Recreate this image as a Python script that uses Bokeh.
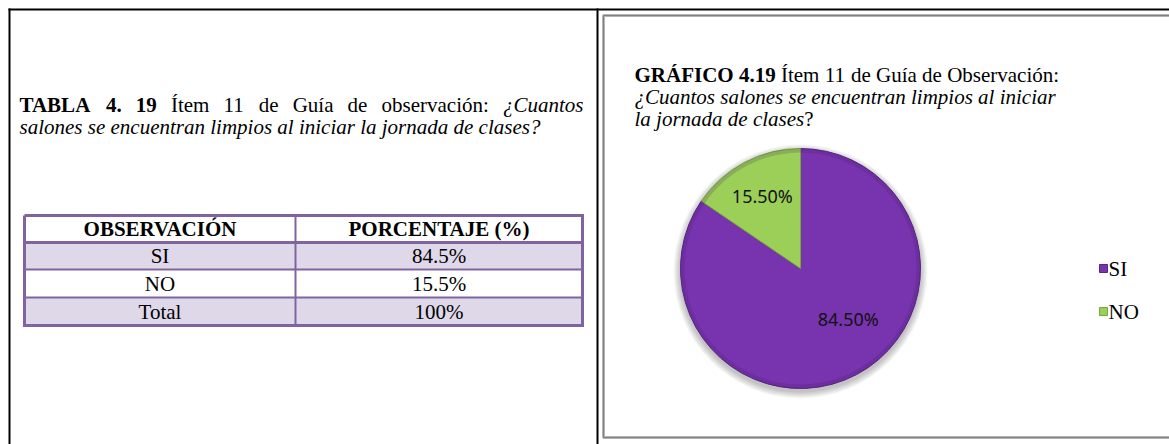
import math
from bokeh.plotting import figure
from bokeh.models import Range1d, ColumnDataSource
from bokeh.core.properties import value
from bokeh.embed import file_html
from bokeh.resources import INLINE

# ---------------- data ----------------
categories = ["SI", "NO"]
percentages = [84.5, 15.5]
slice_colors = ["#7834AE", "#9BCF58"]
table_header = ["OBSERVACIÓN", "PORCENTAJE (%)"]
table_obs = ["SI", "NO", "Total"]
table_pct = ["84.5%", "15.5%", "100%"]

# ---------------- page geometry ----------------
W, H = 1169, 444
def X(px):
    return px
def Y(py):
    return H - py

SERIF = "Liberation Serif"
FS = 21

p = figure(width=W, height=H, x_range=Range1d(0, W), y_range=Range1d(0, H),
           output_backend="svg", toolbar_location=None, min_border=0,
           x_axis_location=None, y_axis_location=None)
p.grid.visible = False
p.outline_line_color = None
p.background_fill_color = "white"
p.border_fill_color = "white"

# ---------------- Times metrics (Liberation Serif is metric compatible) ----------------
REG = {' ': 250, '.': 250, ':': 278, '?': 444, '%': 833, 'G': 722, 'I': 333, 'Í': 333,
       'N': 722, 'O': 722, 'S': 556, 'T': 611, 'a': 444, 'b': 500, 'c': 444, 'd': 500,
       'e': 444, 'i': 278, 'í': 278, 'l': 278, 'm': 778, 'n': 500, 'o': 500, 'ó': 500,
       'r': 333, 's': 389, 't': 278, 'u': 500, 'v': 500}
BOLD = {' ': 250, '.': 250, '(': 333, ')': 333, '%': 1000, 'A': 722, 'Á': 722, 'B': 667,
        'C': 722, 'E': 667, 'F': 611, 'G': 778, 'I': 389, 'J': 500, 'L': 667, 'N': 722,
        'O': 778, 'Ó': 778, 'P': 611, 'R': 722, 'S': 556, 'T': 667, 'V': 722}
ITAL = {' ': 250, '?': 500, '¿': 500, 'C': 667, 'a': 500, 'c': 444, 'd': 500, 'e': 444,
        'i': 278, 'j': 278, 'l': 278, 'm': 722, 'n': 500, 'o': 500, 'p': 500, 'r': 389,
        's': 389, 't': 278, 'u': 500}
TABLES = {"normal": REG, "bold": BOLD, "italic": ITAL}

def tw(text, style, size=FS):
    t = TABLES[style]
    return sum(t.get(ch, 500) for ch in text) / 1000.0 * size

def draw_line(tokens, x0, base_img_y, justify_to=None, size=FS):
    # tokens: (text, style, joined_to_previous)
    widths = [tw(t, s, size) for t, s, _ in tokens]
    gaps = [0 if (i == 0 or tokens[i][2]) else 1 for i in range(len(tokens))]
    ngaps = sum(gaps)
    gap = 0.25 * size
    if justify_to is not None and ngaps:
        gap = (justify_to - x0 - sum(widths)) / ngaps
    x = x0
    for (t, s, _), w, g in zip(tokens, widths, gaps):
        x += g * gap
        p.text(x=[X(x)], y=[Y(base_img_y)], text=[t], text_font=value(SERIF),
               text_font_size=f"{size}px", text_font_style=s, text_color="black",
               text_align="left", text_baseline="alphabetic")
        x += w

# ---------------- document frame ----------------
p.segment(x0=[X(8)], y0=[Y(9)], x1=[W], y1=[Y(9)], line_color="black", line_width=2)
p.segment(x0=[X(9)], y0=[Y(8)], x1=[X(9)], y1=[0], line_color="black", line_width=2)
p.segment(x0=[X(597)], y0=[Y(8)], x1=[X(597)], y1=[0], line_color="black", line_width=2)
# grey inner frame of the chart panel
for lw, col in [(3, "#B4B4B4"), (1, "#808080")]:
    p.line(x=[W, X(603), X(603), W], y=[Y(15), Y(15), Y(437), Y(437)],
           line_color=col, line_width=lw)

# ---------------- left caption ----------------
n, b, i = "normal", "bold", "italic"
line1 = [("TABLA", b, False), ("4.", b, False), ("19", b, False), ("Ítem", n, False),
         ("11", n, False), ("de", n, False), ("Guía", n, False), ("de", n, False),
         ("observación:", n, False), ("¿Cuantos", i, False)]
draw_line(line1, 19, 104, justify_to=583)
line2 = [(w, i, False) for w in "salones se encuentran limpios al iniciar la jornada de clases?".split()]
draw_line(line2, 19, 126)

# ---------------- table ----------------
col_x = [24, 295, 582]
row_y = [215, 242, 269, 297, 325]
fills = ["white", "#DFD8E9", "white", "#DFD8E9"]
tsrc = ColumnDataSource(dict(left=[X(col_x[0])] * 4, right=[X(col_x[2])] * 4,
                             top=[Y(v) for v in row_y[:-1]], bottom=[Y(v) for v in row_y[1:]],
                             fill=fills))
p.quad(left="left", right="right", top="top", bottom="bottom", fill_color="fill",
       line_color=None, source=tsrc)
purple = "#8064A2"
for k, yy in enumerate(row_y[1:-1]):
    p.segment(x0=[X(col_x[0])], y0=[Y(yy)], x1=[X(col_x[2])], y1=[Y(yy)],
              line_color=purple, line_width=3 if k == 0 else 2)
p.segment(x0=[X(col_x[1])], y0=[Y(row_y[0])], x1=[X(col_x[1])], y1=[Y(row_y[-1])],
          line_color=purple, line_width=2)
p.line(x=[X(col_x[0]), X(col_x[2]), X(col_x[2]), X(col_x[0]), X(col_x[0])],
       y=[Y(row_y[0]), Y(row_y[0]), Y(row_y[-1]), Y(row_y[-1]), Y(row_y[0])],
       line_color=purple, line_width=3, line_join="miter")

ccx = [X((col_x[0] + col_x[1]) / 2), X((col_x[1] + col_x[2]) / 2)]
rcy = [Y((row_y[k] + row_y[k + 1]) / 2) for k in range(4)]
p.text(x=ccx, y=[rcy[0]] * 2, text=table_header, text_font=value(SERIF),
       text_font_size=f"{FS}px", text_font_style="bold", text_align="center",
       text_baseline="middle", text_color="black")
p.text(x=[ccx[0]] * 3, y=rcy[1:], text=table_obs, text_font=value(SERIF),
       text_font_size=f"{FS}px", text_align="center", text_baseline="middle", text_color="black")
p.text(x=[ccx[1]] * 3, y=rcy[1:], text=table_pct, text_font=value(SERIF),
       text_font_size=f"{FS}px", text_align="center", text_baseline="middle", text_color="black")

# ---------------- right caption ----------------
r1 = [("GRÁFICO", b, False), ("4.19", b, False), ("Ítem", n, False), ("11", n, False),
      ("de", n, False), ("Guía", n, False), ("de", n, False), ("Observación:", n, False)]
draw_line(r1, 634, 74)
r2 = [(w, i, False) for w in "¿Cuantos salones se encuentran limpios al iniciar".split()]
draw_line(r2, 634, 96)
r3 = [(w, i, False) for w in "la jornada de clases".split()] + [("?", n, True)]
draw_line(r3, 634, 118)

# ---------------- pie ----------------
cx, cy, R = X(800), Y(268), 120
# soft drop shadow
for k in range(7):
    p.circle(x=[cx], y=[cy - 3], radius=R + 1 + k, fill_color="#000000",
             fill_alpha=0.035, line_color=None)
total = sum(percentages)
cum = [0]
for v in percentages:
    cum.append(cum[-1] + v / total)
starts = [math.pi / 2 - 2 * math.pi * c for c in cum[:-1]]
ends = [math.pi / 2 - 2 * math.pi * c for c in cum[1:]]
edge = ["#5A2385", "#74A83A"]
psrc = ColumnDataSource(dict(x=[cx] * 2, y=[cy] * 2, start=starts, end=ends,
                             color=slice_colors, edge=edge, cat=categories))
p.wedge(x="x", y="y", radius=R, start_angle="start", end_angle="end", direction="clock",
        fill_color="color", line_color="edge", line_width=1, source=psrc)
# rim shading
p.circle(x=[cx], y=[cy], radius=R - 2, fill_color=None, line_color="#3D1560",
         line_alpha=0.18, line_width=4)

# data labels
label_text = [f"{v:.2f}%" for v in percentages]
label_geom = [(-46.7, 0.58), None]  # SI placed by best fit, NO on bisector
lx, ly = [], []
for k in range(2):
    if label_geom[k] is None:
        a = (starts[k] + ends[k]) / 2
        rr = 0.68 * R
    else:
        a = math.radians(label_geom[k][0])
        rr = label_geom[k][1] * R
    lx.append(cx + rr * math.cos(a))
    ly.append(cy + rr * math.sin(a))
p.text(x=lx, y=ly, text=label_text, text_font=value("Noto Sans"), text_font_size="18px",
       text_align="center", text_baseline="middle", text_color="#111111")

# legend
leg_y = [Y(268), Y(311)]
p.rect(x=[X(1103)] * 2, y=leg_y, width=8, height=8, fill_color=slice_colors,
       line_color=edge, line_width=1)
p.text(x=[X(1108)] * 2, y=leg_y, text=categories, text_font=value(SERIF),
       text_font_size=f"{FS}px", text_align="left", text_baseline="middle", text_color="black")

open("out.html", "w").write(file_html(p, INLINE))
